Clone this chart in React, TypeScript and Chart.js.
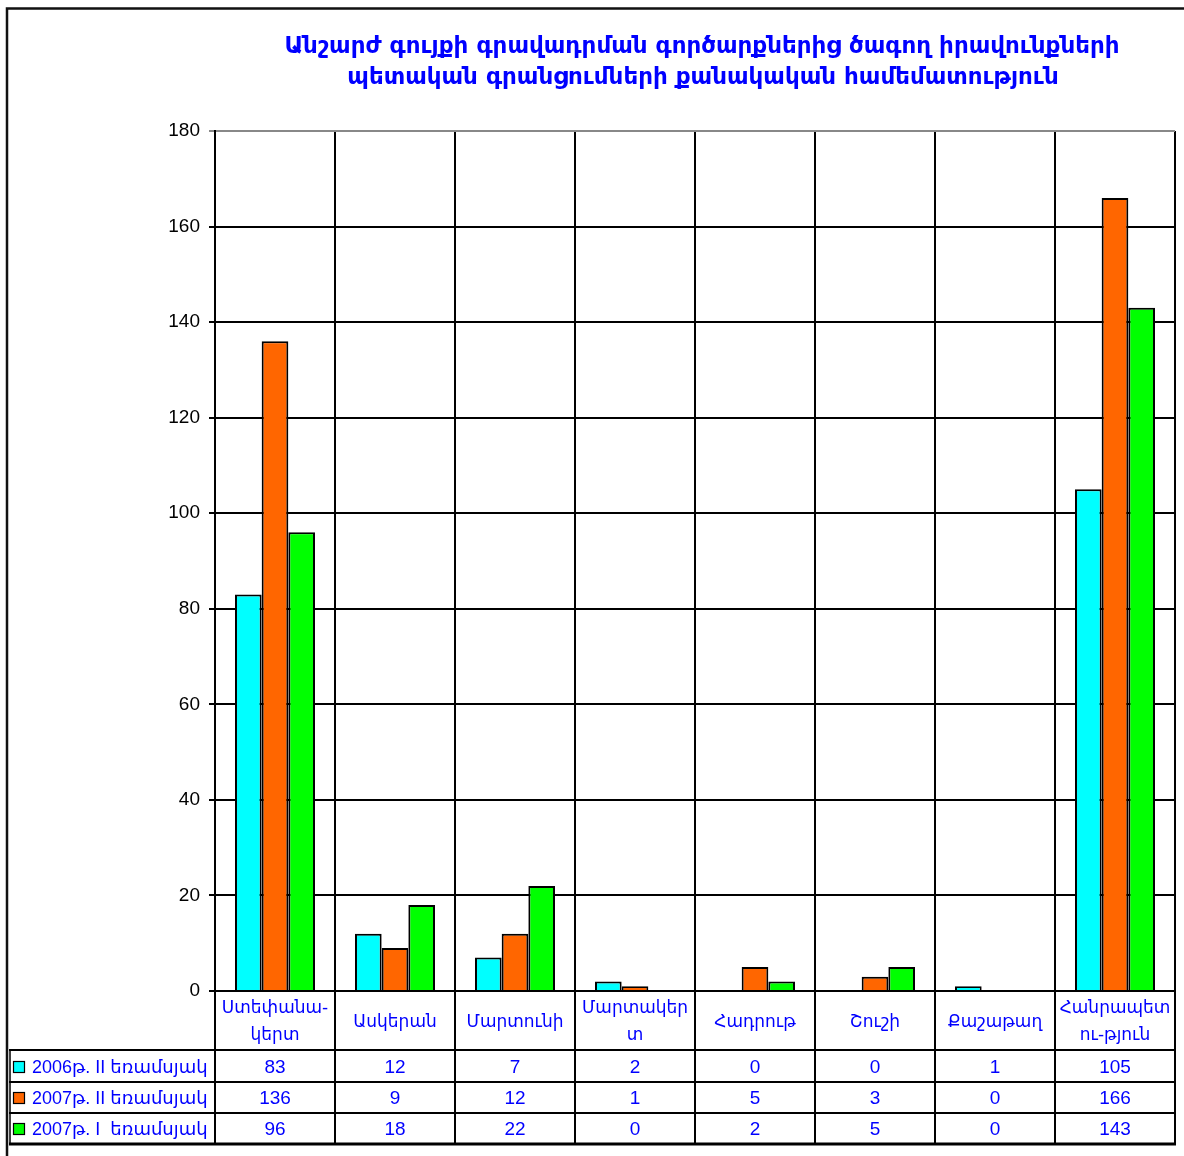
import React, { useEffect, useRef } from 'react';
import { Chart, registerables } from 'chart.js';

Chart.register(...registerables);

const TITLE_LINES = [
  'Անշարժ գույքի գրավադրման գործարքներից ծագող իրավունքների',
  'պետական գրանցումների քանակական համեմատություն',
];

const CATEGORIES: string[][] = [
  ['Ստեփանա-', 'կերտ'],
  ['Ասկերան'],
  ['Մարտունի'],
  ['Մարտակեր', 'տ'],
  ['Հադրութ'],
  ['Շուշի'],
  ['Քաշաթաղ'],
  ['Հանրապետ', 'ու-թյուն'],
];

const SERIES_NAMES = ['2006թ. II եռամսյակ', '2007թ. II եռամսյակ', '2007թ. I  եռամսյակ'];
const SERIES_COLORS = ['#00ffff', '#ff6600', '#00ff00'];

const VALUES_2006_II = [83, 12, 7, 2, 0, 0, 1, 105];
const VALUES_2007_II = [136, 9, 12, 1, 5, 3, 0, 166];
const VALUES_2007_I = [96, 18, 22, 0, 2, 5, 0, 143];

const Y_MIN = 0;
const Y_MAX = 180;
const Y_STEP = 20;

const BLUE = '#0000ff';
const FONT = '"Liberation Sans", "DejaVu Sans", Arial, sans-serif';

const tablePlugin = {
  id: 'tablePlugin',
  afterDraw(chart: any) {
    const ctx = chart.ctx as CanvasRenderingContext2D;
    const ca = chart.chartArea;
    const n = CATEGORIES.length;
    const w = (ca.right - ca.left) / n;
    const bx = (i: number) => ca.left + i * w;
    const headerBottom = 1050;
    const rowLines = [1050, 1082, 1113];
    const tableBottom = 1144;
    const rowCenters = [1067, 1098, 1129];
    const allValues = [VALUES_2006_II, VALUES_2007_II, VALUES_2007_I];

    ctx.save();
    // title
    ctx.fillStyle = BLUE;
    ctx.font = 'bold 23px "DejaVu Sans", sans-serif';
    ctx.textAlign = 'center';
    ctx.textBaseline = 'middle';
    ctx.fillText(TITLE_LINES[0], 702, 47);
    ctx.fillText(TITLE_LINES[1], 703, 78);

    // outer frame
    ctx.strokeStyle = '#111';
    ctx.lineWidth = 2.5;
    ctx.beginPath();
    ctx.moveTo(7, 1156);
    ctx.lineTo(7, 8.5);
    ctx.lineTo(1184, 8.5);
    ctx.stroke();

    // table vertical lines
    ctx.strokeStyle = '#000';
    ctx.lineWidth = 2;
    for (let i = 0; i <= n; i++) {
      const x = Math.round(bx(i));
      ctx.beginPath();
      ctx.moveTo(x, ca.bottom);
      ctx.lineTo(x, tableBottom);
      ctx.stroke();
    }
    // inner left border of legend column
    ctx.lineWidth = 1.5;
    ctx.beginPath();
    ctx.moveTo(10, headerBottom);
    ctx.lineTo(10, tableBottom);
    ctx.stroke();
    // row lines
    ctx.lineWidth = 2;
    rowLines.forEach((y) => {
      ctx.beginPath();
      ctx.moveTo(9, y);
      ctx.lineTo(ca.right, y);
      ctx.stroke();
    });
    ctx.lineWidth = 3;
    ctx.beginPath();
    ctx.moveTo(9, tableBottom);
    ctx.lineTo(ca.right + 1, tableBottom);
    ctx.stroke();

    // legend entries and values
    ctx.textBaseline = 'middle';
    for (let s = 0; s < SERIES_NAMES.length; s++) {
      const cy = rowCenters[s];
      ctx.fillStyle = SERIES_COLORS[s];
      ctx.fillRect(13.5, cy - 5.5, 11, 11);
      ctx.lineWidth = 1.2;
      ctx.strokeStyle = '#000';
      ctx.strokeRect(13.5, cy - 5.5, 11, 11);
      ctx.fillStyle = BLUE;
      ctx.font = '18px ' + FONT;
      ctx.textAlign = 'left';
      ctx.fillText(SERIES_NAMES[s], 32, cy + 1);
      ctx.font = '19px ' + FONT;
      ctx.textAlign = 'center';
      for (let i = 0; i < n; i++) {
        ctx.fillText(String(allValues[s][i]), bx(i) + w / 2, cy + 1);
      }
    }
    ctx.restore();
  },
};

export default function App() {
  const ref = useRef<HTMLCanvasElement | null>(null);
  useEffect(() => {
    if (!ref.current) return;
    const chart = new Chart(ref.current, {
      type: 'bar',
      data: {
        labels: CATEGORIES as any,
        datasets: [
          { label: SERIES_NAMES[0], data: VALUES_2006_II, backgroundColor: SERIES_COLORS[0] },
          { label: SERIES_NAMES[1], data: VALUES_2007_II, backgroundColor: SERIES_COLORS[1] },
          { label: SERIES_NAMES[2], data: VALUES_2007_I, backgroundColor: SERIES_COLORS[2] },
        ].map((d) => ({
          ...d,
          borderColor: '#000',
          borderWidth: 2,
          borderSkipped: 'start' as const,
          categoryPercentage: 0.667,
          barPercentage: 1,
        })),
      },
      options: {
        responsive: false,
        animation: false,
        devicePixelRatio: 1,
        layout: { padding: { left: 0, right: 9, top: 131, bottom: 106 } },
        plugins: {
          legend: { display: false },
          title: { display: false },
          tooltip: { enabled: false },
        },
        scales: {
          x: {
            grid: {
              offset: true,
              drawTicks: false,
              color: (c: any) => (c.index === CATEGORIES.length ? '#888' : '#000'),
              lineWidth: 2,
            },
            border: { display: true, color: '#000', width: 2 },
            ticks: {
              color: BLUE,
              font: { family: '"DejaVu Sans", sans-serif', size: 17, lineHeight: 1.55 },
              padding: 18,
              crossAlign: 'center',
              maxRotation: 0,
              autoSkip: false,
            },
            afterFit: (s: any) => {
              s.height = 59;
              s.paddingLeft = 0;
              s.paddingRight = 0;
            },
          },
          y: {
            min: Y_MIN,
            max: Y_MAX,
            ticks: {
              stepSize: Y_STEP,
              color: '#000',
              font: { family: FONT, size: 19 },
              padding: 9,
            },
            grid: {
              color: (c: any) => (c.tick && c.tick.value === Y_MAX ? '#888' : '#000'),
              lineWidth: 2,
              tickLength: 6,
              drawTicks: true,
            },
            border: { display: true, color: '#000', width: 2 },
            afterFit: (s: any) => {
              s.width = 215;
            },
          },
        },
      },
      plugins: [tablePlugin],
    });
    return () => chart.destroy();
  }, []);
  return (
    <div style={{ position: 'absolute', left: 0, top: 0, width: 1184, height: 1156, background: '#fff' }}>
      <canvas ref={ref} width={1184} height={1156} style={{ display: 'block', width: 1184, height: 1156 }} />
    </div>
  );
}
